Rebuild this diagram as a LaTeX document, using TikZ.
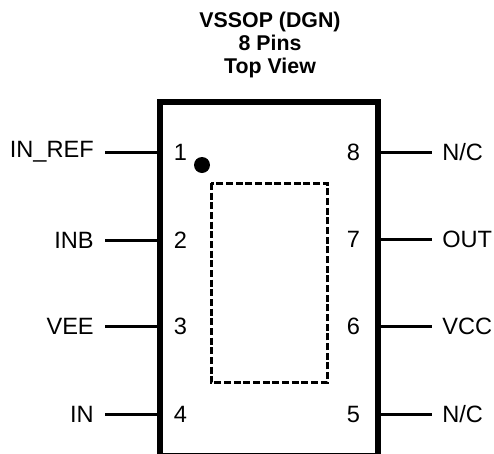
\documentclass[tikz,border=0pt]{standalone}
\usepackage{fontspec}
\setmainfont{Liberation Sans}
\begin{document}
\begin{tikzpicture}[x=0.75pt,y=-0.75pt,
  pinline/.style={line width=2.25pt,line cap=butt},
  pinlabel/.style={font=\fontsize{17.7pt}{20pt}\selectfont,inner sep=0pt},
  titletext/.style={font=\bfseries\fontsize{16pt}{17.6pt}\selectfont,inner sep=0pt,align=center}]
\useasboundingbox (0,0) rectangle (494,454);
\begin{scope}
\clip (0,0) rectangle (494,454);
\draw[line width=4.2pt] (160,102) rectangle (378,456);
\end{scope}
\node[titletext] (title) at (270,45) {VSSOP (DGN)\\8 Pins\\Top View};
\draw[line width=2.25pt,dash pattern=on 5.2pt off 2.05pt] (211,183) rectangle (327,382.5);
\node[circle,fill=black,inner sep=0pt,minimum size=12pt] (dot) at (202,165) {};
\foreach \n/\y/\name in {1/152/IN\_REF,2/240/INB,3/326.5/VEE,4/414/IN}{
  \coordinate (la\n) at (160,\y);
  \coordinate (lb\n) at (105,\y);
  \draw[pinline] (la\n) -- (lb\n);
  \node[pinlabel,anchor=east] (lname\n) at (94,\y) {\name};
  \node[pinlabel] (lnum\n) at (180.5,\y) {\n};
}
\foreach \n/\y/\name in {8/152/{N/C},7/239/OUT,6/326.5/VCC,5/414/{N/C}}{
  \coordinate (ra\n) at (378,\y);
  \coordinate (rb\n) at (432,\y);
  \draw[pinline] (ra\n) -- (rb\n);
  \node[pinlabel,anchor=west] (rname\n) at (442,\y) {\name};
  \node[pinlabel] (rnum\n) at (353.5,\y) {\n};
}
\end{tikzpicture}
\end{document}
